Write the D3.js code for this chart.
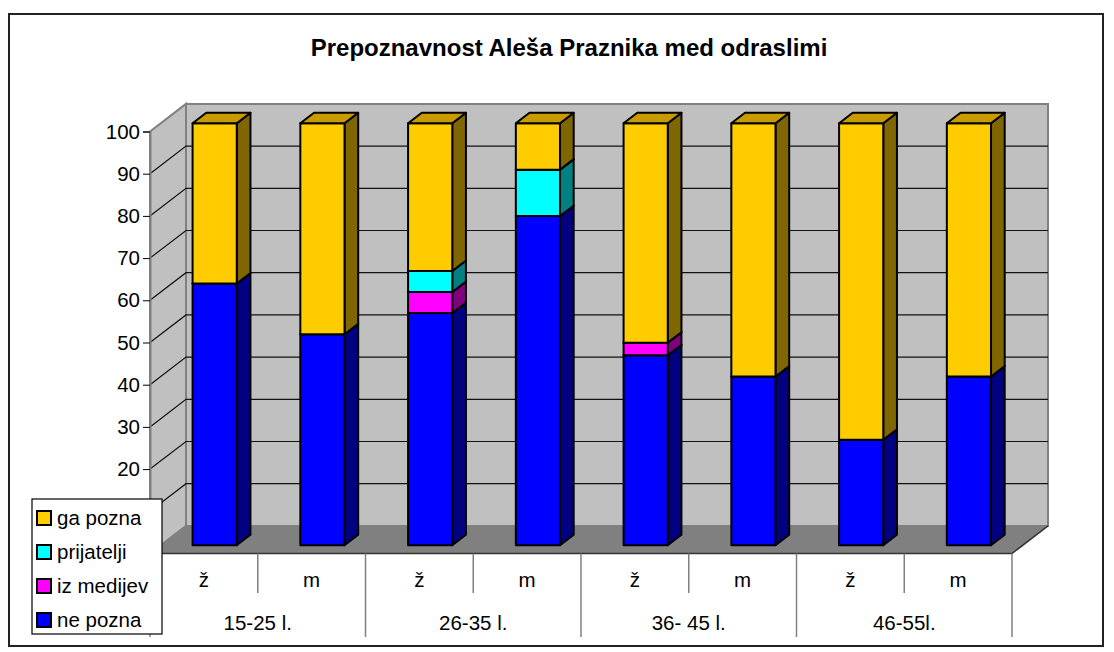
<!DOCTYPE html>
<html><head><meta charset="utf-8">
<script src="https://cdn.jsdelivr.net/npm/d3@7/dist/d3.min.js"></script>
<style>body{margin:0;background:#fff}svg{display:block;font-family:Arial,"Liberation Sans",sans-serif}</style>
</head><body>
<script>
// ---- data ----
const title = "Prepoznavnost Aleša Praznika med odraslimi";
const categories = ["ž","m","ž","m","ž","m","ž","m"];
const groups = ["15-25 l.","26-35 l.","36- 45 l.","46-55l."];
const seriesNames = ["ne pozna","iz medijev","prijatelji","ga pozna"];
const nePozna   = [62, 50, 55, 78, 45, 40, 25, 40];
const izMedijev = [ 0,  0,  5,  0,  3,  0,  0,  0];
const prijatelji= [ 0,  0,  5, 11,  0,  0,  0,  0];
const gaPozna   = [38, 50, 35, 11, 52, 60, 75, 60];
const yTicks = [0,10,20,30,40,50,60,70,80,90,100];
const hiddenTickLabels = [0,10]; // covered by the legend in the reference

// ---- styles ----
const front = {"ne pozna":"#0000ff","iz medijev":"#ff00ff","prijatelji":"#00ffff","ga pozna":"#ffcc00"};
const side  = {"ne pozna":"#000080","iz medijev":"#800080","prijatelji":"#008080","ga pozna":"#806600"};
const topc  = {"ne pozna":"#0000c0","iz medijev":"#c000c0","prijatelji":"#00c0c0","ga pozna":"#c89b00"};

const W = 1114, H = 652;
const svg = d3.select("body").append("svg").attr("width", W).attr("height", H);

// outer border
svg.append("rect").attr("x",9).attr("y",14).attr("width",1094).attr("height",632)
  .attr("fill","#fff").attr("stroke","#222").attr("stroke-width",2);

svg.append("text").attr("x",569).attr("y",56).attr("text-anchor","middle")
  .attr("font-size",24).attr("font-weight","bold").text(title);

// plot geometry (front plane)
const X0 = 150, X1 = 1012, DX = 36, DY = 27.6;
const y = d3.scaleLinear().domain([0,100]).range([553.5,131.5]);
const xCat = d3.scaleBand().domain(d3.range(categories.length)).range([X0,X1]);
const xBar = d3.scaleBand().domain(d3.range(categories.length)).range([X0,X1]).paddingInner(0.59).paddingOuter(0.295);
const P = (xf, v, d) => [xf + d*DX, y(v) - d*DY];
const poly = pts => "M" + pts.map(p => p.join(",")).join("L") + "Z";

// walls
const yb0 = y(0)-DY, yb100 = y(100)-DY;
svg.append("path").attr("d", poly([[X0,y(100)],[X0+DX,yb100],[X0+DX,yb0],[X0,y(0)]]))
  .attr("fill","#c0c0c0").attr("stroke","#808080").attr("stroke-width",2);
svg.append("path").attr("d", poly([[X0+DX,yb100],[X1+DX,yb100],[X1+DX,yb0],[X0+DX,yb0]]))
  .attr("fill","#c0c0c0").attr("stroke","#808080").attr("stroke-width",2);
// gridlines
yTicks.filter(v => v>0 && v<100).forEach(v => {
  svg.append("path").attr("d", `M${X0},${y(v)}L${X0+DX},${y(v)-DY}L${X1+DX},${y(v)-DY}`)
    .attr("fill","none").attr("stroke","#111").attr("stroke-width",1.2);
});
// floor
svg.append("path").attr("d", poly([[X0,y(0)],[X1,y(0)],[X1+DX,yb0],[X0+DX,yb0]]))
  .attr("fill","#808080").attr("stroke","none");
svg.append("path").attr("d", `M${X0},${y(0)}L${X1},${y(0)}L${X1+DX},${yb0}`)
  .attr("fill","none").attr("stroke","#333").attr("stroke-width",1.5);

// y axis
const ax = svg.append("g").attr("transform",`translate(${X0},0)`)
  .call(d3.axisLeft(y).tickValues(yTicks).tickSize(7).tickPadding(3)
    .tickFormat(v => hiddenTickLabels.includes(v) ? "" : d3.format("d")(v)));
ax.select(".domain").attr("stroke","#808080").attr("stroke-width",2);
ax.selectAll(".tick line").attr("stroke","#000");
ax.selectAll(".tick text").attr("font-size",20.5).attr("font-family","Arial, 'Liberation Sans', sans-serif").attr("fill","#000");

// stacked bars
const rows = categories.map((c,i) => ({"ne pozna":nePozna[i],"iz medijev":izMedijev[i],"prijatelji":prijatelji[i],"ga pozna":gaPozna[i]}));
const stacked = d3.stack().keys(seriesNames)(rows);
const d0 = 0.3, d1 = 0.68;
const gBars = svg.append("g").attr("stroke","#000").attr("stroke-width",2).attr("stroke-linejoin","round");
categories.forEach((c,i) => {
  const x0 = xBar(i), x1 = xBar(i) + xBar.bandwidth();
  stacked.forEach(s => {
    const v0 = s[i][0], v1 = s[i][1];
    if (v1 - v0 <= 0) return;
    const k = s.key;
    gBars.append("path").attr("fill", side[k])
      .attr("d", poly([P(x1,v1,d0),P(x1,v1,d1),P(x1,v0,d1),P(x1,v0,d0)]));
    gBars.append("path").attr("fill", front[k])
      .attr("d", poly([P(x0,v1,d0),P(x1,v1,d0),P(x1,v0,d0),P(x0,v0,d0)]));
    gBars.append("path").attr("fill", topc[k])
      .attr("d", poly([P(x0,v1,d0),P(x0,v1,d1),P(x1,v1,d1),P(x1,v1,d0)]));
  });
});

// category labels
const yF = y(0);
const gCat = svg.append("g");
categories.forEach((c,i) => {
  gCat.append("text").attr("x", xCat(i)+xCat.bandwidth()/2).attr("y", 587)
    .attr("text-anchor","middle").attr("font-size",20.5).text(c);
});
groups.forEach((g,j) => {
  gCat.append("text").attr("x", xCat(2*j)+xCat.bandwidth()).attr("y", 630)
    .attr("text-anchor","middle").attr("font-size",20.5).text(g);
});
d3.range(categories.length+1).forEach(i => {
  const xx = i < categories.length ? xCat(i) : X1;
  const long = i % 2 === 0;
  gCat.append("line").attr("x1",xx).attr("x2",xx).attr("y1",yF).attr("y2", long ? 637 : 593)
    .attr("stroke","#808080").attr("stroke-width",1.5);
});

// legend
const lg = svg.append("g");
lg.append("rect").attr("x",32).attr("y",499).attr("width",130).attr("height",135)
  .attr("fill","#fff").attr("stroke","#000").attr("stroke-width",1.2);
const legendOrder = seriesNames.slice().reverse();
const ly = d3.scalePoint().domain(legendOrder).range([518,620]);
legendOrder.forEach(k => {
  lg.append("rect").attr("x",37).attr("y",ly(k)-7).attr("width",14).attr("height",14)
    .attr("fill",front[k]).attr("stroke","#000").attr("stroke-width",2);
  lg.append("text").attr("x",57).attr("y",ly(k)+7).attr("font-size",20.5).text(k);
});
</script>
</body></html>
